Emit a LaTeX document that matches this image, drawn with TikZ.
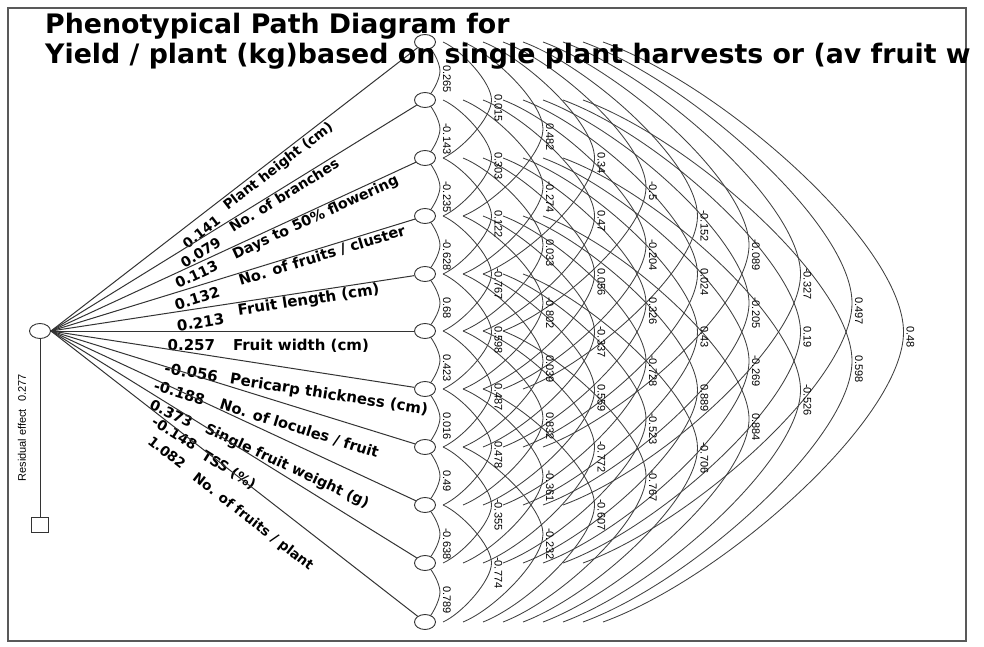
\documentclass[tikz,border=0pt]{standalone}
\usepackage{fontspec}
\setmainfont{Liberation Sans}
\newfontfamily\headfont{DejaVu Sans}
\usepackage{tikz}
\usetikzlibrary{shapes.geometric}
\usetikzlibrary{calc}
\usetikzlibrary{backgrounds}
\tikzset{
        trait/.style={ellipse, draw=black!80, fill=white, line width=0.9pt,
          minimum width=21pt, minimum height=15pt, inner sep=0pt},
        resid/.style={rectangle, draw=black!80, fill=white, line width=0.9pt,
          minimum width=17pt, minimum height=15pt, inner sep=0pt},
        frame/.style={draw=black!65, line width=1.6pt},
        direct/.style={draw=black!80, line width=1pt},
        corr/.style={draw=black!75, line width=0.85pt},
        pathlbl/.style={below=#1, anchor=north west, sloped, inner sep=0pt,
          font=\headfont\bfseries\fontsize{15}{15}\selectfont},
        corrlbl/.style={rotate=-90, anchor=west, inner sep=0pt,
          font=\fontsize{11}{11}\selectfont},
        title/.style={anchor=base west, inner sep=0pt,
          font=\headfont\bfseries\fontsize{26.8}{27}\selectfont},
}
% correlation arc between trait #1 and trait #2, value #3
\newcommand{\corrarc}[3]{%
  \pgfmathsetmacro{\dd}{#2-#1}%
  \pgfmathsetmacro{\ex}{max(0,20*\dd-22)}%
  \pgfmathsetmacro{\wx}{15+51.5*(\dd-1)-\ex}%
  \pgfmathsetmacro{\by}{29*\dd}%
  \begin{pgfonlayer}{background}
    \draw[corr] ($(v#1.center)+(\ex,0)$) .. controls +(0.4*\wx,0.15*\by) and +(0,-0.3*\by) .. ++(\wx,\by) coordinate (apex)
      .. controls +(0,0.3*\by) and +(0.4*\wx,-0.15*\by) .. ($(v#2.center)+(\ex,0)$);
  \end{pgfonlayer}
  \node[corrlbl] (c#1-#2) at ($(apex)+(7,-6)$) {#3};
}

\begin{document}
\begin{tikzpicture}[x=1pt, y=-1pt]
      \useasboundingbox (0,0) rectangle (984,647);
      \draw[frame] (8,8) rectangle (966,641);

      % YIELD AND RESIDUAL
      \node[trait] (yld) at (40,331) {};
      \node[resid] (res) at (40,525) {};
      \draw[direct] (yld) -- (res);
      \node[rotate=90, inner sep=0pt, font=\fontsize{11}{11}\selectfont] (reslbl) at (22,428) {Residual effect\hspace{7pt}0.277};

      % TRAITS
      \node[trait] (v1) at (425,42) {};
      \node[trait] (v2) at (425,100) {};
      \node[trait] (v3) at (425,158) {};
      \node[trait] (v4) at (425,216) {};
      \node[trait] (v5) at (425,274) {};
      \node[trait] (v6) at (425,331) {};
      \node[trait] (v7) at (425,389) {};
      \node[trait] (v8) at (425,447) {};
      \node[trait] (v9) at (425,505) {};
      \node[trait] (v10) at (425,563) {};
      \node[trait] (v11) at (425,622) {};

      % DIRECT EFFECTS
      \draw[direct] (yld.east) -- (v1) node[pathlbl=8pt, pos=.34, scale=.91] {0.141} node[pathlbl=2pt, pos=.46, scale=.91] {Plant height (cm)};
      \draw[direct] (yld.east) -- (v2) node[pathlbl=6pt, pos=.34, scale=.93] {0.079} node[pathlbl=1pt, pos=.48, scale=.93] {No. of branches};
      \draw[direct] (yld.east) -- (v3) node[pathlbl=4pt, pos=.33, scale=.955] {0.113} node[pathlbl=1pt, pos=.49, scale=.955] {Days to 50\% flowering};
      \draw[direct] (yld.east) -- (v4) node[pathlbl=6pt, pos=.33, scale=.975] {0.132} node[pathlbl=1pt, pos=.51, scale=.975] {No. of fruits / cluster};
      \draw[direct] (yld.east) -- (v5) node[pathlbl=8pt, pos=.34] {0.213} node[pathlbl=1pt, pos=.51] {Fruit length (cm)};
      \draw[direct] (yld.east) -- (v6) node[pathlbl=8pt, pos=.32] {0.257} node[pathlbl=8pt, pos=.50] {Fruit width (cm)};
      \draw[direct] (yld.east) -- (v7) node[pathlbl=13pt, pos=.32] {-0.056} node[pathlbl=13pt, pos=.50] {Pericarp thickness (cm)};
      \draw[direct] (yld.east) -- (v8) node[pathlbl=15pt, pos=.30, scale=.975] {-0.188} node[pathlbl=13pt, pos=.48, scale=.975] {No. of locules / fruit};
      \draw[direct] (yld.east) -- (v9) node[pathlbl=18pt, pos=.30, scale=.955] {0.373} node[pathlbl=16pt, pos=.45, scale=.955] {Single fruit weight (g)};
      \draw[direct] (yld.east) -- (v10) node[pathlbl=16pt, pos=.31, scale=.93] {-0.148} node[pathlbl=18pt, pos=.45, scale=.93] {TSS (\%)};
      \draw[direct] (yld.east) -- (v11) node[pathlbl=19pt, pos=.31, scale=.91] {1.082} node[pathlbl=20pt, pos=.435, scale=.91] {No. of fruits / plant};

      % CORRELATIONS
      % neighbours
      \corrarc{1}{2}{0.265}
      \corrarc{2}{3}{-0.143}
      \corrarc{3}{4}{-0.235}
      \corrarc{4}{5}{-0.628}
      \corrarc{5}{6}{0.68}
      \corrarc{6}{7}{0.423}
      \corrarc{7}{8}{0.016}
      \corrarc{8}{9}{0.49}
      \corrarc{9}{10}{-0.638}
      \corrarc{10}{11}{0.789}
      % two apart
      \corrarc{1}{3}{0.015}
      \corrarc{2}{4}{0.303}
      \corrarc{3}{5}{0.122}
      \corrarc{4}{6}{-0.767}
      \corrarc{5}{7}{0.598}
      \corrarc{6}{8}{0.487}
      \corrarc{7}{9}{0.478}
      \corrarc{8}{10}{-0.355}
      \corrarc{9}{11}{-0.774}
      % three apart
      \corrarc{1}{4}{0.482}
      \corrarc{2}{5}{-0.274}
      \corrarc{3}{6}{0.033}
      \corrarc{4}{7}{-0.802}
      \corrarc{5}{8}{0.039}
      \corrarc{6}{9}{0.832}
      \corrarc{7}{10}{-0.361}
      \corrarc{8}{11}{-0.232}
      % four apart
      \corrarc{1}{5}{0.34}
      \corrarc{2}{6}{0.47}
      \corrarc{3}{7}{0.056}
      \corrarc{4}{8}{-0.337}
      \corrarc{5}{9}{0.559}
      \corrarc{6}{10}{-0.772}
      \corrarc{7}{11}{-0.607}
      % five apart
      \corrarc{1}{6}{-0.5}
      \corrarc{2}{7}{-0.204}
      \corrarc{3}{8}{0.326}
      \corrarc{4}{9}{-0.728}
      \corrarc{5}{10}{-0.523}
      \corrarc{6}{11}{-0.767}
      % six and more apart
      \corrarc{1}{7}{-0.152}
      \corrarc{2}{8}{0.024}
      \corrarc{3}{9}{0.43}
      \corrarc{4}{10}{0.889}
      \corrarc{5}{11}{-0.706}
      \corrarc{1}{8}{-0.089}
      \corrarc{2}{9}{-0.205}
      \corrarc{3}{10}{-0.269}
      \corrarc{4}{11}{0.884}
      \corrarc{1}{9}{-0.327}
      \corrarc{2}{10}{0.19}
      \corrarc{3}{11}{-0.526}
      \corrarc{1}{10}{0.497}
      \corrarc{2}{11}{0.598}
      \corrarc{1}{11}{0.48}

      % TITLE
      \node[title] (ttl1) at (45,34) {Phenotypical Path Diagram for};
      \node[title] (ttl2) at (45,64) {Yield / plant (kg)based on single plant harvests or (av fruit w};
\end{tikzpicture}
\end{document}
